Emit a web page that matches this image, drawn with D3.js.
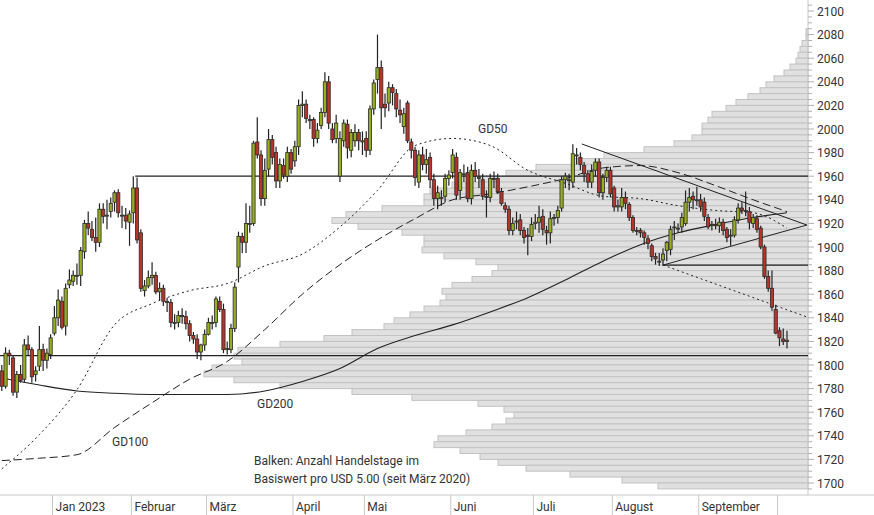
<!DOCTYPE html>
<html lang="de">
<head>
<meta charset="UTF-8">
<title>Gold Chart</title>
<script src="https://d3js.org/d3.v7.min.js"></script>
<style>
  body { margin: 0; background: #fff; font-family: Roboto, Arial, sans-serif; }
  svg text { fill: #333; font-size: 12px; }
</style>
</head>
<body>
<div id="chart"></div>
<script>
const W = 874, H = 515;

// trading days (weekdays, holidays removed)
const holidays = ["2022-12-26", "2023-01-02", "2023-04-07"];
const monthNames = ["Jan 2023", "Februar", "März", "April", "Mai", "Juni", "Juli", "August", "September", ""];

// daily candles: open, high, low, close
const candles = [
  [1795,1800,1778,1782],[1782,1815,1780,1810],[1810,1813,1800,1808],[1806,1808,1774,1777],[1777,1795,1772,1792],
  [1792,1800,1785,1787],[1788,1822,1785,1817],[1817,1825,1808,1813],[1813,1815,1785,1790],[1792,1799,1786,1795],
  [1799,1833,1795,1813],[1813,1818,1795,1804],[1804,1814,1797,1810],[1809,1826,1805,1823],
  [1827,1850,1825,1840],[1840,1864,1833,1855],[1854,1858,1830,1832],[1833,1869,1825,1865],[1868,1881,1865,1872],
  [1871,1880,1867,1876],[1876,1886,1868,1876],[1876,1900,1867,1897],[1896,1923,1890,1920],[1920,1930,1910,1916],
  [1915,1922,1905,1908],[1908,1925,1896,1904],[1904,1937,1900,1932],[1932,1937,1920,1926],[1927,1940,1915,1927],
  [1930,1942,1925,1937],[1938,1948,1930,1946],[1946,1949,1925,1929],[1927,1935,1916,1927],[1927,1933,1915,1922],
  [1921,1931,1901,1928],
  [1929,1960,1920,1950],[1950,1959,1903,1906],[1912,1915,1862,1865],[1863,1872,1858,1867],[1867,1880,1865,1874],
  [1874,1887,1868,1876],[1876,1879,1860,1862],[1862,1870,1855,1865],[1865,1868,1850,1854],[1854,1857,1845,1853],
  [1853,1856,1832,1836],[1836,1843,1830,1836],[1836,1846,1832,1842],[1842,1848,1835,1841],[1841,1846,1830,1835],
  [1835,1838,1820,1825],[1825,1828,1818,1822],[1822,1826,1805,1811],[1811,1818,1804,1817],[1817,1830,1812,1826],
  [1826,1840,1825,1836],[1836,1842,1830,1836],[1836,1858,1832,1856],[1854,1858,1845,1847],[1847,1852,1810,1813],
  [1813,1820,1809,1814],[1813,1835,1810,1831],[1831,1870,1828,1866],[1883,1913,1870,1909],[1909,1912,1895,1904],
  [1904,1937,1895,1920],[1920,1935,1912,1920],[1920,1990,1918,1988],[1989,2010,1975,1978],[1978,1982,1935,1941],
  [1941,1975,1935,1965],[1966,2000,1960,1991],[1991,1995,1970,1976],[1980,1985,1950,1956],[1956,1975,1950,1970],
  [1969,1975,1958,1961],[1960,1985,1955,1980],[1980,1983,1962,1966],
  [1973,1990,1968,1985],[1985,2025,1978,2020],[2020,2032,2010,2021],[2021,2025,2005,2009],[2008,2012,2000,2007],
  [2008,2010,1985,1992],[1992,2005,1988,1999],[2003,2018,2000,2014],[2014,2048,2010,2040],[2040,2045,2000,2005],
  [2000,2005,1988,1991],[1992,2012,1988,2005],[1960,1998,1955,1992],[1990,2008,1985,2005],[2004,2008,1975,1984],
  [1982,2000,1976,1997],[1990,2004,1985,1997],[1997,2000,1982,1990],[1989,1998,1978,1990],
  [1992,1998,1976,1982],[1982,2020,1978,2017],[2017,2042,2012,2039],[2042,2080,2030,2052],[2052,2058,2000,2018],
  [2021,2030,2010,2018],[2022,2040,2015,2035],[2035,2038,2020,2031],[2030,2034,2010,2017],[2016,2025,2005,2012],
  [2002,2018,1996,2013],[2022,2024,1988,1990],[1989,1992,1975,1982],[1982,1985,1952,1959],[1955,1982,1950,1978],
  [1978,1985,1965,1970],[1970,1983,1962,1974],[1976,1980,1950,1957],[1957,1962,1935,1941],[1941,1952,1932,1946],
  [1942,1948,1935,1942],[1943,1962,1938,1958],[1958,1965,1952,1961],
  [1963,1983,1958,1978],[1976,1980,1940,1944],[1948,1966,1940,1963],[1962,1970,1955,1962],[1963,1968,1938,1941],
  [1941,1970,1936,1965],[1965,1972,1955,1960],[1959,1966,1950,1959],[1957,1962,1940,1943],[1943,1948,1925,1942],
  [1942,1962,1938,1958],[1958,1964,1950,1958],[1958,1962,1945,1947],[1947,1950,1935,1937],[1935,1938,1929,1932],
  [1932,1935,1910,1914],[1914,1925,1910,1920],[1922,1930,1915,1922],[1923,1928,1910,1914],[1914,1917,1903,1908],
  [1910,1916,1893,1909],[1909,1925,1905,1919],
  [1920,1928,1915,1921],[1921,1935,1912,1925],[1926,1932,1910,1915],[1914,1918,1902,1912],[1912,1930,1903,1924],
  [1925,1928,1918,1925],[1925,1935,1920,1931],[1933,1960,1930,1957],[1957,1963,1950,1960],[1957,1962,1948,1957],
  [1955,1987,1950,1979],[1978,1984,1970,1978],[1976,1980,1965,1970],[1969,1972,1955,1962],[1962,1965,1950,1955],
  [1955,1970,1950,1964],[1965,1975,1960,1972],[1972,1975,1942,1946],[1946,1962,1940,1959],[1959,1968,1955,1965],
  [1965,1968,1942,1945],
  [1950,1952,1930,1934],[1934,1940,1930,1935],[1934,1950,1930,1942],[1942,1947,1932,1937],[1936,1938,1922,1925],
  [1925,1927,1912,1914],[1914,1917,1910,1914],[1914,1916,1908,1912],[1912,1914,1902,1908],[1907,1910,1898,1903],
  [1901,1903,1888,1892],[1892,1895,1885,1890],[1888,1895,1884,1888],[1889,1899,1884,1894],[1897,1905,1888,1904],
  [1898,1918,1893,1915],[1917,1922,1906,1917],[1916,1920,1912,1916],[1917,1929,1912,1925],[1920,1948,1918,1938],
  [1938,1950,1930,1942],[1943,1947,1932,1940],[1940,1951,1935,1940],
  [1940,1945,1930,1934],[1938,1942,1922,1926],[1925,1928,1915,1917],[1919,1922,1914,1919],[1919,1924,1915,1918],
  [1918,1925,1912,1921],[1921,1924,1910,1914],[1915,1917,1904,1908],[1910,1915,1901,1910],[1910,1926,1908,1923],
  [1923,1937,1920,1933],[1933,1938,1928,1931],[1931,1947,1926,1930],[1930,1934,1915,1921],[1920,1928,1916,1925],
  [1924,1927,1912,1915],[1916,1918,1898,1900],[1900,1902,1873,1875],[1875,1880,1862,1865],[1865,1880,1846,1849],
  [1847,1851,1826,1827],
  [1829,1832,1816,1823],[1822,1831,1817,1820],[1820,1829,1814,1821]
];

// moving averages, sampled every 10 trading days (last at day 209)
const maDays = [0,10,20,30,40,50,60,70,80,90,100,110,120,130,140,150,160,170,180,190,200,209];
const gd50  = [1712,1741,1779,1834,1852,1863,1869,1884,1894,1917,1948,1986,1992,1986,1965,1954,1943,1941,1935,1931,1929,1916];
const gd100 = [1719,1721,1724,1747,1768,1788,1803,1830,1860,1885,1906,1924,1940,1945,1951,1958,1967,1969,1963,1952,1940,1930];
const gd200 = [1789,1783,1778,1776,1775,1775,1775,1778,1786,1797,1814,1825,1834,1845,1857,1872,1888,1902,1912,1919,1925,1929];

// volume profile: trading days per USD 5 bucket (bucket top value)
const profileTop = d3.range(2085, 1695, -5);
const profileDays = [1,1,3,4,5,6,9,12,17,21,24,30,36,41,48,50,53,53,58,67,82,102,118,136,151,164,178,189,192,192,
  213,231,238,225,203,192,192,193,182,166,155,158,168,178,183,181,184,192,199,207,212,228,242,264,285,287,283,298,302,287,
  264,228,198,165,152,147,151,158,171,185,187,174,164,155,141,119,93,75];

// horizontal levels and trend lines [day, value]
const levels = [{v: 1960, from: 35.5}, {v: 1808, from: -1}, {v: 1884.7, from: 176}];
const trendSolid = [[[154.4, 1987.3], [214.3, 1918.6]], [[176, 1884.7], [214.3, 1918.6]]];
const trendDotted = [[176, 1884.7], [214.3, 1840.7]];
const yTicks = d3.range(1700, 2101, 20);

// dates
const days = [];
for (let d = new Date(2022, 11, 12); d <= new Date(2023, 9, 4); d.setDate(d.getDate() + 1)) {
  const wd = d.getDay();
  const key = d3.timeFormat("%Y-%m-%d")(d);
  if (wd > 0 && wd < 6 && !holidays.includes(key)) days.push(new Date(d));
}

const svg = d3.select("#chart").append("svg").attr("width", W).attr("height", H);
const plotRight = 808, axisY = 495;

const x = d3.scaleLinear().domain([0, 209]).range([1.8, 787]);
const y = d3.scaleLinear().domain([1700, 2100]).range([483, 11]);
const px = d3.scaleLinear().domain([0, 300]).range([plotRight, plotRight - 600]);
const step = x(1) - x(0);

// profile bars
svg.append("g").selectAll("rect").data(profileTop).join("rect")
  .attr("x", (d, i) => px(profileDays[i]))
  .attr("y", d => y(d))
  .attr("width", (d, i) => plotRight - px(profileDays[i]))
  .attr("height", d => y(d - 5) - y(d))
  .attr("fill", "#e0e0e0").attr("stroke", "#c2c2c2").attr("stroke-width", 1);

// axes
svg.append("line").attr("x1", plotRight).attr("x2", plotRight).attr("y1", 0).attr("y2", axisY)
  .attr("stroke", "#c8c8c8");
svg.append("line").attr("x1", 0).attr("x2", W).attr("y1", axisY).attr("y2", axisY).attr("stroke", "#c8c8c8");

const yAxis = svg.append("g");
yAxis.selectAll("line").data(d3.range(1695, 2106, 5)).join("line")
  .attr("x1", plotRight).attr("x2", d => plotRight + (d % 20 === 0 ? 6 : 4))
  .attr("y1", d => y(d)).attr("y2", d => y(d)).attr("stroke", "#b0b0b0");
yAxis.selectAll("text").data(yTicks).join("text")
  .attr("x", plotRight + 9).attr("y", d => y(d) + 4.5).text(d => d);

// month separators (first trading day of each month)
const monthStarts = [];
days.forEach((d, i) => {
  if (i > 0 && d.getMonth() !== days[i - 1].getMonth()) monthStarts.push(i);
});
const sep = monthStarts.map(i => x(i) - step / 2);
const xAxis = svg.append("g");
xAxis.selectAll("line").data(sep).join("line")
  .attr("x1", d => d).attr("x2", d => d).attr("y1", axisY).attr("y2", H).attr("stroke", "#c8c8c8");
xAxis.selectAll("text").data(sep).join("text")
  .attr("x", d => d + 3).attr("y", 511).text((d, i) => monthNames[i]);

// levels
levels.forEach(l => {
  svg.append("line").attr("x1", x(l.from)).attr("x2", plotRight).attr("y1", y(l.v)).attr("y2", y(l.v))
    .attr("stroke", "#222").attr("stroke-width", 1.2);
});

// moving averages
const maLine = d3.line().x((d, i) => x(maDays[i])).y(d => y(d)).curve(d3.curveMonotoneX);
svg.append("path").attr("d", maLine(gd50)).attr("fill", "none").attr("stroke", "#222").attr("stroke-dasharray", "2,3");
svg.append("path").attr("d", maLine(gd100)).attr("fill", "none").attr("stroke", "#222").attr("stroke-dasharray", "8,4");
svg.append("path").attr("d", maLine(gd200)).attr("fill", "none").attr("stroke", "#222").attr("stroke-width", 1.1);

// trend lines
const tl = d3.line().x(d => x(d[0])).y(d => y(d[1]));
trendSolid.forEach(t => svg.append("path").attr("d", tl(t)).attr("fill", "none").attr("stroke", "#222"));
svg.append("path").attr("d", tl(trendDotted)).attr("fill", "none").attr("stroke", "#222").attr("stroke-dasharray", "2,3");

// candles
const cg = svg.append("g").selectAll("g").data(candles).join("g");
cg.append("line")
  .attr("x1", (d, i) => x(i)).attr("x2", (d, i) => x(i))
  .attr("y1", d => y(d[1])).attr("y2", d => y(d[2]))
  .attr("stroke", "#222").attr("stroke-width", 1.2);
cg.append("rect")
  .attr("x", (d, i) => x(i) - 1.6).attr("width", 3.2)
  .attr("y", d => y(Math.max(d[0], d[3])))
  .attr("height", d => Math.max(1, Math.abs(y(d[0]) - y(d[3]))))
  .attr("fill", d => d[3] >= d[0] ? "#98ad1f" : "#b8342a")
  .attr("stroke", "#2a2a2a").attr("stroke-width", 0.8);

// labels
svg.append("text").attr("x", 478).attr("y", 133).text("GD50");
svg.append("text").attr("x", 257).attr("y", 408).text("GD200");
svg.append("text").attr("x", 112).attr("y", 446).text("GD100");
svg.append("text").attr("x", 254).attr("y", 465).text("Balken: Anzahl Handelstage im");
svg.append("text").attr("x", 254).attr("y", 483).text("Basiswert pro USD 5.00 (seit März 2020)");
</script>
</body>
</html>
